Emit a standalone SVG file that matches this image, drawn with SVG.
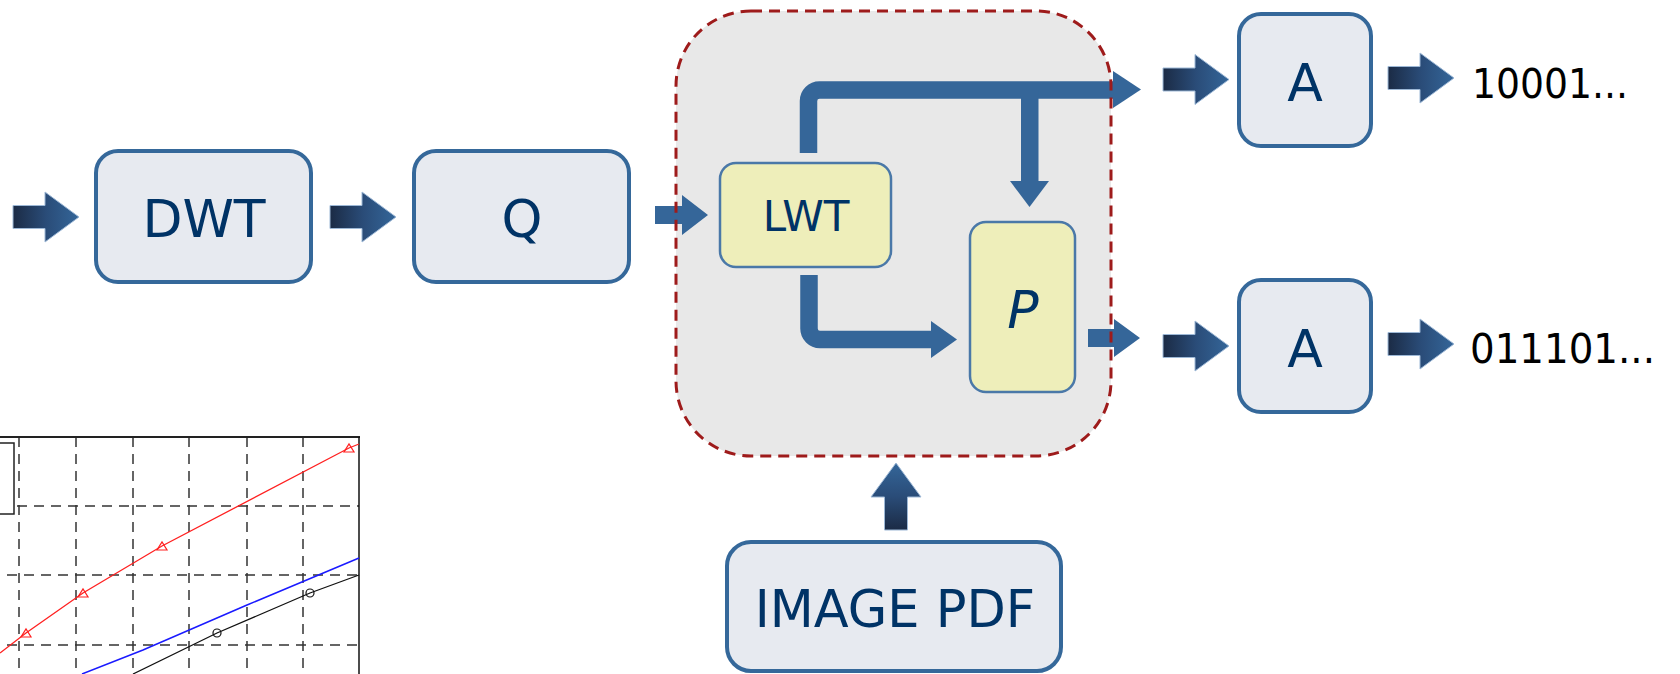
<svg xmlns="http://www.w3.org/2000/svg" xmlns:xlink="http://www.w3.org/1999/xlink" width="1680" height="674" viewBox="0 0 1680 674">
<style>
.box{fill:#e7eaf0;stroke:#35689a;stroke-width:4}
.ybox{fill:#eeeeba;stroke:#4a78a8;stroke-width:2.5}
.lbl{font-family:"DejaVu Sans",Verdana,sans-serif;fill:#003366;text-anchor:middle}
.bits{font-family:"DejaVu Sans",Verdana,sans-serif;fill:#000;font-size:40px}
.conn{fill:#356699}
.route{fill:none;stroke:#356699;stroke-width:17.5}
.grid{stroke:#333;stroke-width:1.5;stroke-dasharray:10 7;fill:none}
</style>
<defs>
<linearGradient id="gh" x1="0" y1="0" x2="1" y2="0">
<stop offset="0" stop-color="#1b2b45"/>
<stop offset="0.5" stop-color="#2a4c78"/>
<stop offset="1" stop-color="#346699"/>
</linearGradient>
<linearGradient id="gv" x1="0" y1="1" x2="0" y2="0">
<stop offset="0" stop-color="#1b2b45"/>
<stop offset="0.5" stop-color="#2a4c78"/>
<stop offset="1" stop-color="#346699"/>
</linearGradient>
<path id="harrow" d="M0,-11.5 H32 V-25 L66,0 L32,25 V11.5 H0 Z" fill="url(#gh)" stroke="#9db8d6" stroke-width="1"/>
</defs>
<rect width="1680" height="674" fill="#fff"/>

<g id="chart">
<rect x="-2" y="443" width="16" height="71" fill="#fff" stroke="#222" stroke-width="1.5"/>
<g class="grid">
<line x1="19" y1="437" x2="19" y2="674"/>
<line x1="76" y1="437" x2="76" y2="674"/>
<line x1="133" y1="437" x2="133" y2="674"/>
<line x1="189" y1="437" x2="189" y2="674"/>
<line x1="247" y1="437" x2="247" y2="674"/>
<line x1="303" y1="437" x2="303" y2="674"/>
<line x1="17" y1="506" x2="359" y2="506"/>
<line x1="7" y1="575" x2="359" y2="575"/>
<line x1="7" y1="645" x2="359" y2="645"/>
</g>
<line x1="0" y1="437" x2="360" y2="437" stroke="#222" stroke-width="2"/>
<line x1="359" y1="437" x2="359" y2="674" stroke="#111" stroke-width="1.5"/>
<polyline points="0,653 26,633 83,593 162,546 349,448 359,444" fill="none" stroke="#ff2020" stroke-width="1.3"/>
<polyline points="82,674 143,650 247,605 359,558" fill="none" stroke="#1a1aff" stroke-width="1.5"/>
<polyline points="133,674 217,633 310,593 359,575" fill="none" stroke="#111" stroke-width="1.3"/>
<g fill="none" stroke="#ff2020" stroke-width="1.2">
<path d="M21,637 L31,637 L26,629 Z"/>
<path d="M78,597 L88,597 L83,589 Z"/>
<path d="M157,550 L167,550 L162,542 Z"/>
<path d="M344,452 L354,452 L349,444 Z"/>
</g>
<g fill="none" stroke="#111" stroke-width="1.2">
<circle cx="217" cy="633" r="4"/>
<circle cx="310" cy="593" r="4"/>
</g>
</g>

<g id="container">
<rect x="676" y="11" width="435" height="445" rx="75" fill="#e8e8e8"/>
</g>

<g id="DWT">
<rect class="box" x="96" y="151" width="215" height="131" rx="22"/>
<text class="lbl" x="204" y="237" font-size="52">DWT</text>
</g>
<g id="Q">
<rect class="box" x="414" y="151" width="215" height="131" rx="22"/>
<text class="lbl" x="522" y="237" font-size="52">Q</text>
</g>
<g id="LWT">
<rect class="ybox" x="720" y="163" width="171" height="104" rx="16"/>
<text class="lbl" x="806" y="231" font-size="42">LWT</text>
</g>
<g id="P">
<rect class="ybox" x="970" y="222" width="105" height="170" rx="16"/>
<text class="lbl" x="1023" y="328" font-size="52" font-style="italic">P</text>
</g>
<g id="A1">
<rect class="box" x="1239" y="14" width="132" height="132" rx="22"/>
<text class="lbl" x="1305" y="101" font-size="52">A</text>
</g>
<g id="A2">
<rect class="box" x="1239" y="280" width="132" height="132" rx="22"/>
<text class="lbl" x="1305" y="367" font-size="52">A</text>
</g>
<g id="IMAGEPDF">
<rect class="box" x="727" y="542" width="334" height="129" rx="24"/>
<text class="lbl" x="895" y="627" font-size="51">IMAGE PDF</text>
</g>
<g id="out1">
<text class="bits" x="1472" y="98" textLength="156" lengthAdjust="spacingAndGlyphs">10001...</text>
</g>
<g id="out2">
<text class="bits" x="1470" y="363" textLength="185" lengthAdjust="spacingAndGlyphs">011101...</text>
</g>

<g id="connectors">
<use xlink:href="#harrow" href="#harrow" x="13" y="217"/>
<use xlink:href="#harrow" href="#harrow" x="330" y="217"/>
<use xlink:href="#harrow" href="#harrow" x="1163" y="79.5"/>
<use xlink:href="#harrow" href="#harrow" x="1388" y="78"/>
<use xlink:href="#harrow" href="#harrow" x="1163" y="346"/>
<use xlink:href="#harrow" href="#harrow" x="1388" y="344"/>
<path d="M884.5,530 V497 H871 L896,463 L921,497 H907.5 V530 Z" fill="url(#gv)" stroke="#9db8d6" stroke-width="1"/>
<path class="conn" d="M655,206 H682 V195 L708,215 L682,235 V224 H655 Z"/>
<path class="route" d="M808.5,153 V101 A11,11 0 0 1 819.5,90 H1114"/>
<path class="conn" d="M1113,71 L1141,89.5 L1113,108 Z"/>
<rect class="conn" x="1021" y="90" width="17.5" height="92"/>
<path class="conn" d="M1010,181 L1049,181 L1029.5,207 Z"/>
<path class="route" d="M809,275 V328.5 A11,11 0 0 0 820,339.5 H932"/>
<path class="conn" d="M931,321 L957,339.5 L931,358 Z"/>
<path class="conn" d="M1088,329 H1114 V319 L1140,338 L1114,357 V347 H1088 Z"/>
</g>

<g id="container-border">
<rect x="676" y="11" width="435" height="445" rx="75" fill="none" stroke="#9e1b1b" stroke-width="3" stroke-dasharray="11 7"/>
</g>
</svg>
